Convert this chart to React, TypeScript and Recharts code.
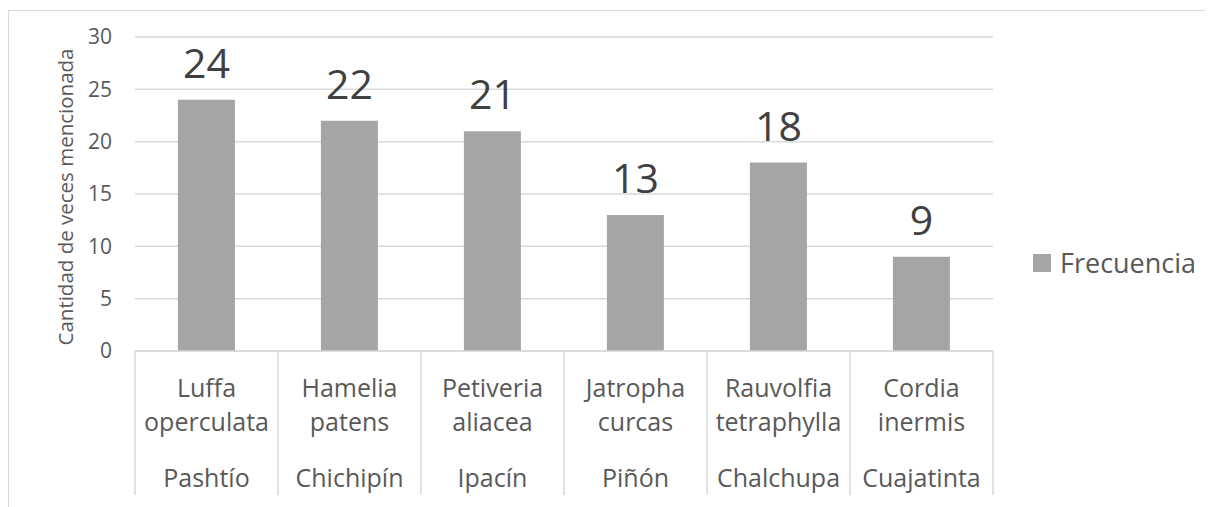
import React from "react"
import {
  BarChart,
  Bar,
  XAxis,
  YAxis,
  CartesianGrid,
  LabelList,
  Label,
} from "recharts"

// nombres científicos (dos líneas) y nombre común
const speciesTop = ["Luffa", "Hamelia", "Petiveria", "Jatropha", "Rauvolfia", "Cordia"]
const speciesBottom = ["operculata", "patens", "aliacea", "curcas", "tetraphylla", "inermis"]
const commonNames = ["Pashtío", "Chichipín", "Ipacín", "Piñón", "Chalchupa", "Cuajatinta"]
const frecuencia = [24, 22, 21, 13, 18, 9]
const yTicks = [0, 5, 10, 15, 20, 25, 30]

const data = commonNames.map((name, i) => ({
  name,
  top: speciesTop[i],
  bottom: speciesBottom[i],
  Frecuencia: frecuencia[i],
}))

const FONT = "'Open Sans', sans-serif"
const CHART_W = 1205
const CHART_H = 497
const MARGIN = { top: 26, right: 221, bottom: 0, left: 0 }
const Y_WIDTH = 126
const PLOT_W = CHART_W - MARGIN.left - MARGIN.right - Y_WIDTH
const BAND = PLOT_W / data.length

function CategoryTick(props: any) {
  const { x, y, index } = props
  const d = data[index]
  const left = x - BAND / 2
  const right = x + BAND / 2
  return (
    <g>
      {index === 0 && <line x1={left} y1={y} x2={left} y2={y + 144} stroke="#D9D9D9" strokeWidth={1.5} />}
      <line x1={right} y1={y} x2={right} y2={y + 144} stroke="#D9D9D9" strokeWidth={1.5} />
      <text x={x} y={y + 46} textAnchor="middle" fill="#595959" fontSize={25} fontFamily={FONT}>
        {d.top}
      </text>
      <text x={x} y={y + 80} textAnchor="middle" fill="#595959" fontSize={25} fontFamily={FONT}>
        {d.bottom}
      </text>
      <text x={x} y={y + 136} textAnchor="middle" fill="#595959" fontSize={25} fontFamily={FONT}>
        {d.name}
      </text>
    </g>
  )
}

export default function App() {
  return (
    <div
      style={{
        position: "relative",
        width: CHART_W,
        height: CHART_H + 2,
        marginTop: 2,
        borderTop: "1.5px solid #D9D9D9",
        borderLeft: "1.5px solid #D9D9D9",
        boxSizing: "border-box",
      }}
    >
      <BarChart width={CHART_W} height={CHART_H} data={data} margin={MARGIN} barCategoryGap="30%">
        <CartesianGrid horizontal vertical={false} stroke="#D9D9D9" strokeWidth={1.5} />
        <XAxis
          dataKey="name"
          axisLine={{ stroke: "#D9D9D9", strokeWidth: 1.5 }}
          tickLine={false}
          tickSize={0}
          tickMargin={0}
          height={CHART_H - MARGIN.top - 314}
          interval={0}
          tick={<CategoryTick />}
        />
        <YAxis
          width={Y_WIDTH}
          domain={[0, 30]}
          ticks={yTicks}
          axisLine={false}
          tickLine={false}
          tickMargin={17}
          tick={{ fill: "#595959", fontSize: 21, fontFamily: FONT }}
        >
          <Label
            content={() => (
              <text
                x={56}
                y={186}
                transform="rotate(-90 56 186)"
                textAnchor="middle"
                dominantBaseline="central"
                fill="#595959"
                fontSize={20.5}
                fontFamily={FONT}
              >
                Cantidad de veces mencionada
              </text>
            )}
          />
        </YAxis>
        <Bar dataKey="Frecuencia" fill="#A5A5A5" isAnimationActive={false}>
          <LabelList
            dataKey="Frecuencia"
            position="top"
            offset={22}
            fill="#404040"
            fontSize={41}
            fontFamily={FONT}
          />
        </Bar>
      </BarChart>
      <div
        style={{
          position: "absolute",
          left: 1024,
          top: 233,
          display: "flex",
          alignItems: "center",
          fontFamily: FONT,
          fontSize: 27,
          color: "#595959",
          whiteSpace: "nowrap",
        }}
      >
        <span style={{ display: "inline-block", width: 18, height: 18, background: "#A5A5A5", marginRight: 9 }} />
        Frecuencia
      </div>
    </div>
  )
}
